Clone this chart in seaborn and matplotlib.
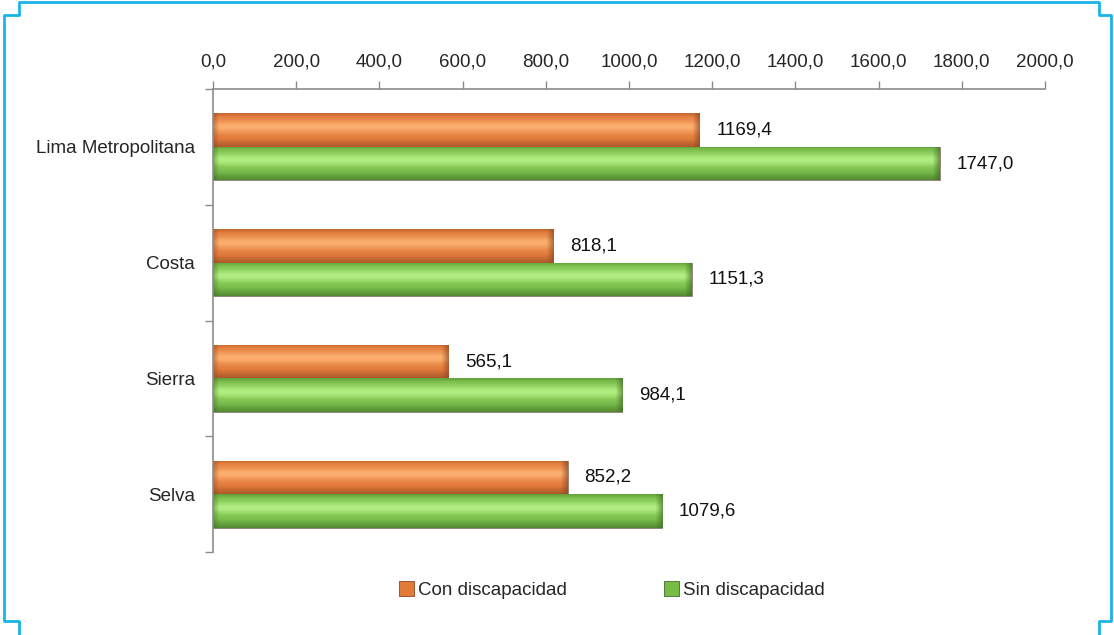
import numpy as np
import pandas as pd
import matplotlib
matplotlib.use("Agg")
import matplotlib.pyplot as plt
import seaborn as sns
from matplotlib.lines import Line2D
from matplotlib.patches import Patch
from matplotlib.colors import to_rgb
from matplotlib.ticker import FuncFormatter, FixedLocator

# datos
regiones = ["Lima Metropolitana", "Costa", "Sierra", "Selva"]
con_disc = [1169.4, 818.1, 565.1, 852.2]
sin_disc = [1747.0, 1151.3, 984.1, 1079.6]
series = ["Con discapacidad", "Sin discapacidad"]
xticks = [0, 200, 400, 600, 800, 1000, 1200, 1400, 1600, 1800, 2000]

df = pd.DataFrame({
    "region": regiones * 2,
    "valor": con_disc + sin_disc,
    "serie": [series[0]] * 4 + [series[1]] * 4,
})

sns.set_style("white")
plt.rcParams["font.family"] = ["Liberation Sans Narrow", "Liberation Sans", "DejaVu Sans"]

colores = {series[0]: "#E27A3A", series[1]: "#78BC48"}
claros = {series[0]: "#FBAE6E", series[1]: "#B2EE82"}
oscuros = {series[0]: "#8A4520", series[1]: "#3D6A26"}

fig = plt.figure(figsize=(11.14, 6.35), dpi=100)
ax = fig.add_axes([213 / 1114, 1 - 552 / 635, (1045 - 213) / 1114, (552 - 89) / 635])

sns.barplot(data=df, y="region", x="valor", hue="serie", orient="h",
            palette=colores, width=0.58, gap=0, legend=False, ax=ax,
            edgecolor="#8a7a70", linewidth=0.6)

ax.set_xlim(0, 2000)
ax.set_ylim(3.5, -0.5)

# degradado en las barras
px_por_unidad = (1045 - 213) / 2000
for i, p in enumerate(ax.patches):
    serie = series[i // 4]
    x0, y0, w, h = p.get_x(), p.get_y(), p.get_width(), p.get_height()
    ncol = max(int(w * px_por_unidad), 10)
    nrow = 40
    t = np.linspace(0, 1, nrow)
    # perfil vertical: brillo en la parte media-alta, bordes oscuros
    perfil = np.exp(-((t - 0.4) / 0.2) ** 2)
    c_base = np.array(to_rgb(colores[serie]))
    c_claro = np.array(to_rgb(claros[serie]))
    c_osc = np.array(to_rgb(oscuros[serie]))
    filas = c_base[None, :] + (c_claro - c_base)[None, :] * perfil[:, None]
    borde = np.clip(1 - t / 0.1, 0, 1) * 0.35 + np.clip((t - 0.75) / 0.25, 0, 1) * 0.6
    filas = filas * (1 - borde[:, None]) + c_osc[None, :] * borde[:, None]
    img = np.repeat(filas[:, None, :], ncol, axis=1)
    # biseles en los extremos
    cols = np.arange(ncol)
    der = np.clip((cols - (ncol - 8)) / 8, 0, 1) * 0.7
    izq = np.clip(1 - cols / 6, 0, 1) * 0.45
    fade = np.maximum(der, izq)
    img = img * (1 - fade[None, :, None]) + c_osc[None, None, :] * fade[None, :, None]
    im = ax.imshow(img, extent=(x0, x0 + w, y0 + h, y0), aspect="auto",
                   origin="upper", zorder=p.get_zorder() + 0.1, interpolation="bilinear")
    im.set_clip_path(p)

ax.set_xlim(0, 2000)
ax.set_ylim(3.5, -0.5)

# etiquetas de valor
for i, p in enumerate(ax.patches):
    v = p.get_width()
    ax.annotate(f"{v:.1f}".replace(".", ","), (v, p.get_y() + p.get_height() / 2),
                xytext=(12, 0), textcoords="offset points",
                va="center", ha="left", fontsize=13.5, color="#111111")

# ejes
ax.xaxis.tick_top()
ax.xaxis.set_major_locator(FixedLocator(xticks))
ax.xaxis.set_major_formatter(FuncFormatter(lambda v, _: f"{v:.1f}".replace(".", ",")))
ax.tick_params(axis="x", direction="out", length=6, width=1, color="#8c8c8c",
               labelsize=13.5, pad=7, top=True, bottom=False)
ax.set_yticks(range(len(regiones)))
ax.set_yticklabels(regiones)
ax.yaxis.set_minor_locator(FixedLocator([-0.5, 0.5, 1.5, 2.5, 3.5]))
ax.tick_params(axis="y", which="major", length=0, labelsize=13.5, pad=13)
ax.tick_params(axis="y", which="minor", length=6, width=1, color="#8c8c8c", left=True)
ax.set_xlabel("")
ax.set_ylabel("")
ax.spines["bottom"].set_visible(False)
ax.spines["right"].set_visible(False)
for s in ["top", "left"]:
    ax.spines[s].set_color("#8c8c8c")
    ax.spines[s].set_linewidth(1.2)

# leyenda
handles = [Patch(facecolor=colores[s], edgecolor=oscuros[s], linewidth=0.6) for s in series]
fig.legend(handles, series, loc="center", bbox_to_anchor=(612 / 1114, 1 - 590 / 635),
           ncol=2, frameon=False, fontsize=13.5, handlelength=0.8, handleheight=0.8,
           handletextpad=0.2, columnspacing=5.2)

# marco azul con esquinas escalonadas
W, H = 1114, 635
marco = [(19, 635), (19, 621), (4, 621), (4, 15), (19, 15), (19, 2), (1099, 2),
         (1099, 15), (1111, 15), (1111, 621), (1099, 621), (1099, 635)]
xs = [x / W for x, y in marco]
ys = [1 - y / H for x, y in marco]
fig.add_artist(Line2D(xs, ys, color="#1AB4EA", lw=2, transform=fig.transFigure))

fig.savefig("out.png", dpi=100)
